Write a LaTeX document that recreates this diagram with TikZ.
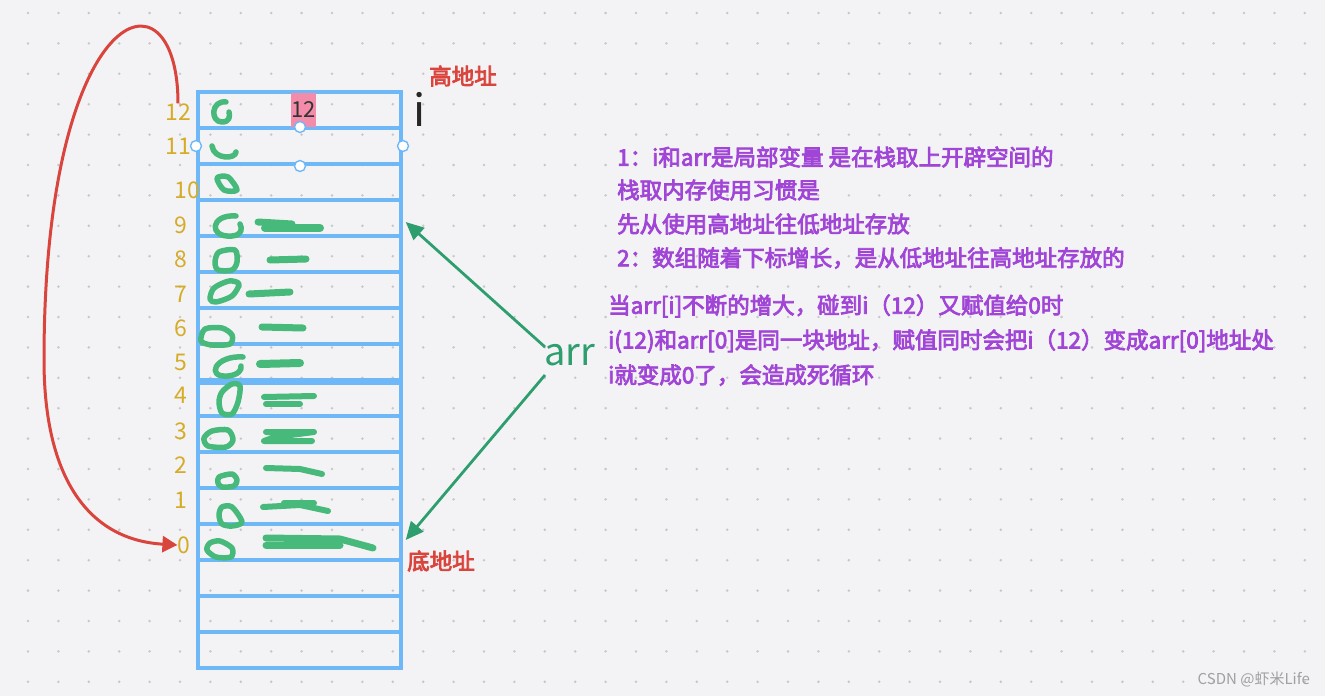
\documentclass[tikz,border=0pt]{standalone}
\usepackage{fontspec}
\setmainfont{Noto Sans CJK SC}
\newfontfamily\cjkb[FakeBold=3.5]{Noto Sans CJK SC}
\usetikzlibrary{arrows.meta}
\definecolor{bgc}{HTML}{F3F3F6}
\definecolor{dotc}{HTML}{C8C8CC}
\definecolor{cellblue}{HTML}{6FB8F7}
\definecolor{yel}{HTML}{D6AC27}
\definecolor{redc}{HTML}{D9443C}
\definecolor{purp}{HTML}{A045D6}
\definecolor{garr}{HTML}{2E9E6E}
\definecolor{scr}{HTML}{47B97A}
\definecolor{pinkc}{HTML}{F38BAA}
\definecolor{wm}{HTML}{A0A0A4}
\tikzset{
  cell/.style={draw=cellblue, line width=3.4pt, minimum width=203pt, minimum height=36pt, inner sep=0pt},
  lab/.style={text=yel, font=\fontsize{23}{23}\selectfont, inner sep=0pt},
  note/.style={text=purp, font=\cjkb\fontsize{22.5}{26}\selectfont, anchor=west, inner sep=0pt},
  redlab/.style={text=redc, font=\cjkb\fontsize{22.5}{26}\selectfont, inner sep=0pt},
  handle/.style={circle, draw=cellblue, fill=white, line width=1.4pt, minimum size=11pt, inner sep=0pt},
  scrib/.style={draw=scr, line width=5.5pt, line cap=round, line join=round},
  garrow/.style={draw=garr, line width=2.8pt, -{Triangle[length=18pt,width=16pt]}},
  rarrow/.style={draw=redc, line width=3pt, -{Triangle[length=15pt,width=16pt]}}
}
\begin{document}
\begin{tikzpicture}[x=1pt,y=-1pt]
\useasboundingbox (0,0) rectangle (1325,696);
\fill[bgc] (0,0) rectangle (1325,696);
\foreach \i in {0,...,43}{\foreach \j in {0,...,22}{\fill[dotc] (28+30.4*\i,13+30.4*\j) circle (1.4);}}
% cells
\foreach \r/\n in {0/12,1/11,2/10,3/9,4/8,5/7,6/6,7/5,8/4,9/3,10/2,11/1,12/0,13/e1,14/e2,15/e3}{
  \node[cell] (c\n) at (299.5,110+36*\r) {};
}
\draw[cellblue, line width=6pt] (c5.south west) -- (c5.south east);
% pink i value
\node[fill=pinkc, minimum width=25pt, minimum height=34pt, inner sep=0pt, font=\fontsize{22}{22}\selectfont, text=black!80] (p12) at (303.5,109.5) {12};
% handles
\node[handle] (h1) at (300,127) {};
\node[handle] (h2) at (196,146) {};
\node[handle] (h3) at (403,146) {};
\node[handle] (h4) at (300,166) {};
% index labels
\node[lab] (l12) at (178,112) {12};
\node[lab] (l11) at (178,146) {11};
\node[lab] (l10) at (187,190) {10};
\node[lab] (l9) at (181,225) {9};
\node[lab] (l8) at (181,259) {8};
\node[lab] (l7) at (181,294) {7};
\node[lab] (l6) at (181,328) {6};
\node[lab] (l5) at (181,362) {5};
\node[lab] (l4) at (181,395) {4};
\node[lab] (l3) at (181,431) {3};
\node[lab] (l2) at (181,465) {2};
\node[lab] (l1) at (181,500) {1};
\node[lab] (l0) at (184,545) {0};
% red loop arrow
\coordinate (lm) at (44,360);
\draw[rarrow] (l12.north) .. controls (178,-40) and (44,0) .. (lm) .. controls (44,480) and (90,540) .. (l0.west);
% scribbles
\draw[scrib] (226,102) .. controls (211,100) and (210,122) .. (222,122) .. controls (230,122) and (230,116) .. (229,112);
\draw[scrib] (212,146) .. controls (214,160) and (236,159) .. (236,152);
\draw[scrib] plot[smooth cycle] coordinates {(217,178) (228,177) (237,190) (224,190)};
\draw[scrib] (236,216) .. controls (210,214) and (208,238) .. (232,236) .. controls (243,235) and (242,228) .. (240,224);
\draw[scrib, line width=7pt] (258,222) -- (292,224);
\draw[scrib, line width=8pt] (265,228) -- (320,228);
\draw[scrib] plot[smooth cycle] coordinates {(219,252) (235,250) (237,262) (232,270) (218,270) (215,262)};
\draw[scrib, line width=7pt] (270,260) -- (306,259);
\draw[scrib] plot[smooth cycle] coordinates {(210,299) (214,288) (229,281) (239,284) (232,296) (216,302)};
\draw[scrib, line width=7pt] (249,294) -- (290,292);
\draw[scrib] plot[smooth cycle] coordinates {(205,329) (222,328) (232,335) (230,344) (212,345) (201,341)};
\draw[scrib, line width=7pt] (262,327) -- (303,328);
\draw[scrib] (243,357) .. controls (215,355) and (205,378) .. (228,376) .. controls (238,375) and (242,370) .. (241,366);
\draw[scrib, line width=8pt] (260,364) -- (300,363);
\draw[scrib] plot[smooth cycle] coordinates {(222,392) (232,384) (240,386) (238,402) (232,414) (222,413) (219,402)};
\draw[scrib, line width=6pt] (264,397) -- (314,396);
\draw[scrib, line width=6pt] (266,404) -- (300,404);
\draw[scrib] plot[smooth cycle] coordinates {(204,438) (212,431) (228,430) (233,440) (226,447) (208,446)};
\draw[scrib, line width=6pt] (266,432) -- (314,432) -- (275,437) -- (264,441) -- (312,441);
\draw[scrib] plot[smooth cycle] coordinates {(219,477) (232,474) (237,480) (234,486) (222,487) (218,483)};
\draw[scrib, line width=6pt] (266,468) -- (300,469) -- (322,474);
\draw[scrib] plot[smooth cycle] coordinates {(222,507) (232,507) (242,522) (232,526) (222,524) (219,515)};
\draw[scrib, line width=6pt] (263,507) -- (300,505) -- (328,511);
\draw[scrib, line width=6pt] (284,503) -- (314,503);
\draw[scrib] plot[smooth cycle] coordinates {(210,543) (220,541) (232,548) (231,557) (216,557) (207,550)};
\draw[scrib, line width=7pt] (266,538) -- (340,539) -- (373,548);
\draw[scrib, line width=7pt] (266,545) -- (340,545);
% i and arr
\node[inner sep=0pt, font=\fontsize{44}{44}\selectfont, text=black!85] (ivar) at (420,109) {i};
\node[inner sep=0pt, font=\fontsize{38}{38}\selectfont, text=garr, anchor=west] (arr) at (544,355) {arr};
\coordinate (a1) at (545,347);
\coordinate (a2) at (545,375);
\draw[garrow] (a1) -- ([xshift=3pt,yshift=-4pt]c9.east);
\draw[garrow] (a2) -- ([xshift=3pt,yshift=2pt]c0.east);
% red labels
\node[redlab] (hi) at (463,76) {高地址};
\node[redlab] (lo) at (441,561) {底地址};
% notes
\node[note] (n1) at (617,157) {1：i和arr是局部变量 是在栈取上开辟空间的};
\node[note] (n2) at (617,190) {栈取内存使用习惯是};
\node[note] (n3) at (617,224) {先从使用高地址往低地址存放};
\node[note] (n4) at (617,258) {2：数组随着下标增长，是从低地址往高地址存放的};
\node[note] (n5) at (608,306) {当arr[i]不断的增大，碰到i（12）又赋值给0时};
\node[note] (n6) at (608,341) {i(12)和arr[0]是同一块地址，赋值同时会把i（12）变成arr[0]地址处};
\node[note] (n7) at (608,375) {i就变成0了，会造成死循环};
% watermark
\node[inner sep=0pt, anchor=east, text=wm, font=\fontsize{15}{15}\selectfont] (wmk) at (1310,679) {CSDN @虾米Life};
\end{tikzpicture}
\end{document}
